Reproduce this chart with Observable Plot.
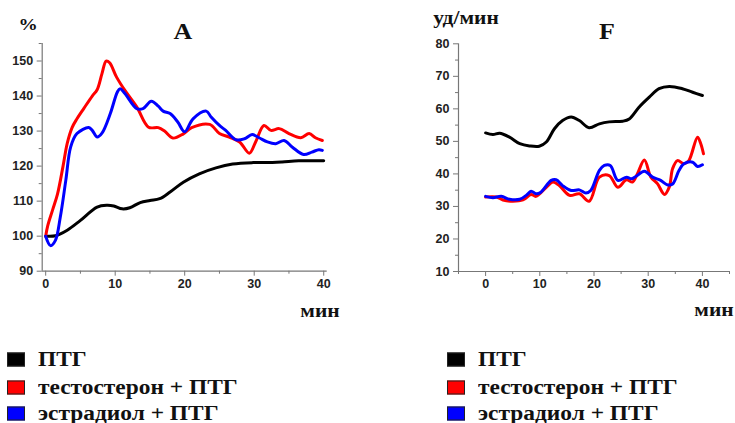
<!DOCTYPE html>
<html>
<head>
<meta charset="utf-8">
<script src="https://cdn.jsdelivr.net/npm/d3@7"></script>
<script src="https://cdn.jsdelivr.net/npm/@observablehq/plot@0.6"></script>
<style>
  html, body { margin: 0; padding: 0; background: #fff; }
  #wrap { position: relative; width: 735px; height: 423px; overflow: hidden; }
  .plot { position: absolute; top: 0; }
  .lbl { position: absolute; font-family: "Liberation Serif", "DejaVu Serif", serif; font-weight: bold; color: #111; white-space: nowrap; transform: translate(-50%, -50%) scaleX(1.13); }
  .leg { position: absolute; font-family: "Liberation Serif", "DejaVu Serif", serif; font-weight: bold; font-size: 20px; color: #111; white-space: nowrap; transform: translateY(-50%); display: flex; align-items: center; }
  .leg .t { display: inline-block; transform: scaleX(1.17); transform-origin: left center; }
  .sw { display: inline-block; width: 16px; height: 12px; border: 1px solid #222; margin-right: 13px; }
</style>
</head>
<body>
<div id="wrap"></div>
<script>
// ---- Data ----
const seriesNames = ["ПТГ", "тестостерон + ПТГ", "эстрадиол + ПТГ"];
const seriesColors = ["#000000", "#ff0000", "#0000ff"];

// Panel A (%), [минуты, значение]
const A_ptg = [[0,100],[1.4,100.1],[3.1,101.7],[5,104.5],[7.4,108.3],[8.8,108.8],[9.8,108.6],[11,107.8],[12.1,108.1],[13.6,109.6],[15,110.2],[16.4,110.7],[17.9,112.6],[19.8,115.4],[22.1,117.8],[24.5,119.5],[26.9,120.6],[29.8,121],[31.7,121],[34,121.2],[36.4,121.5],[40,121.5]];
const A_testo = [[0,100],[0.3,103],[1,107.5],[1.7,112],[2.5,120],[3.1,126.5],[3.8,131],[4.5,133.5],[5.5,136.5],[6.7,140],[7.4,141.8],[8.1,146.4],[8.7,150],[9.2,149.5],[10.2,145.4],[11.4,141.6],[13.1,136.9],[14.8,131.1],[16.2,131],[17.1,130],[18.3,128],[19.8,129.2],[21,131],[23.6,131.9],[25,129.3],[26.4,128.3],[27.9,126.9],[29.3,123.7],[30.2,126.9],[31.4,131.6],[32.4,130.2],[33.6,130.7],[35,129.3],[36.7,128.1],[37.9,129.3],[38.8,128.1],[39.8,127.3]];
const A_estr = [[0,100],[0.7,97.3],[1.4,98.8],[2.1,105.4],[2.9,116],[3.6,125.5],[4.5,129.3],[6.2,131],[6.7,130.2],[7.4,128.3],[8.1,129.4],[9.3,135],[10.3,141.1],[10.7,142.1],[11.4,140.7],[13.1,136.4],[14,136.4],[15.2,138.5],[16.2,137.1],[16.9,135.7],[17.9,135],[19,132.6],[20,129.8],[21.2,133.5],[23.1,135.7],[23.8,134],[25,131.6],[25.9,130.2],[27.4,127.5],[28.6,127.8],[29.7,129],[30.7,128.1],[31.9,126.9],[33.1,126.4],[34.3,127.3],[35.5,125.4],[37.1,123.3],[38.3,124],[39.3,124.7],[39.8,124.5]];

// Panel F (уд/мин)
const F_ptg = [[0,52.6],[1.35,52.1],[2.6,52.5],[4.4,51.3],[6.3,49.3],[8.1,48.6],[9.9,48.5],[11.2,49.8],[12.7,53.9],[14.2,56.4],[15.8,57.5],[17.3,56.4],[19.1,54.2],[21,55.4],[22.8,56],[25.3,56.2],[26.5,56.9],[28.3,60.5],[30.2,63.6],[32,66.2],[33.9,66.9],[36.3,66.2],[38.2,65.1],[40,64.1]];
const F_testo = [[0,32.9],[2,32.9],[3.2,32],[5,31.6],[6.9,32],[8.4,33.7],[9.3,33.1],[11.2,35.9],[12.4,37.5],[13.6,36.4],[15.5,33.4],[17.3,33.9],[19.1,31.6],[21,39],[22.8,39.5],[24.4,35.9],[26,38.2],[27.1,37.5],[28,40],[29.3,44.3],[30.5,39],[31.7,37],[33,33.7],[33.9,36],[34.5,41.6],[35.4,44.1],[36.6,43.1],[37.5,44.1],[39.1,51.3],[39.7,49.3],[40.2,46.2]];
const F_estr = [[0,33.1],[1.35,32.7],[2.9,33.1],[4.4,32.2],[6.3,32.2],[7.5,33.4],[8.4,34.7],[9.3,33.9],[10.2,34.4],[12.1,38],[13,38.2],[14.2,36.4],[15.8,34.9],[17.3,35.1],[18.5,34.1],[19.4,34.9],[21,41.1],[21.9,42.6],[23,42.6],[24.4,38],[26,39],[26.9,38.5],[27.7,39.2],[29.3,40.8],[30.8,39],[32.3,38],[33.6,36.6],[34.5,36.9],[35.7,41.1],[36.6,43.1],[38.2,43.6],[39.1,42.3],[40,42.8]];

// Tick values
const xTicks = [0, 10, 20, 30, 40];
const A_yTicks = [90, 100, 110, 120, 130, 140, 150];
const A_yMinor = [95, 105, 115, 125, 135, 145, 155];
const A_xMinor = [5, 15, 25, 35];
const F_yTicks = [10, 20, 30, 40, 50, 60, 70, 80];
const F_yMinor = [15, 25, 35, 45, 55, 65, 75];
const F_xMinor = [-5, 5, 15, 25, 35, 45];

const axisGray = "#777";
const tickText = "#222";

function panel({series, xDomain, yDomain, yTicks, yMinor, xMinor, width, height, margins}) {
  const marks = [
    Plot.axisY({ticks: yTicks, tickSize: 5, tickPadding: 4, stroke: axisGray, fill: tickText, label: null}),
    Plot.axisY({ticks: yMinor, tickSize: 3, tickFormat: () => "", stroke: axisGray, label: null}),
    Plot.axisX({ticks: xTicks, tickSize: 5, tickPadding: 3, stroke: axisGray, fill: tickText, label: null}),
    Plot.axisX({ticks: xMinor, tickSize: 3, tickFormat: () => "", stroke: axisGray, label: null}),
    Plot.ruleX([xDomain[0]], {y1: yDomain[0], y2: yDomain[1], stroke: axisGray, strokeWidth: 1.2}),
    Plot.ruleY([yDomain[0]], {x1: xDomain[0], x2: xDomain[1], stroke: axisGray, strokeWidth: 1.2})
  ];
  series.forEach((s, i) => {
    marks.push(Plot.line(s, {x: d => d[0], y: d => d[1], stroke: seriesColors[i], strokeWidth: 3, curve: "catmull-rom", strokeLinejoin: "round", strokeLinecap: "round"}));
  });
  return Plot.plot({
    width, height,
    marginLeft: margins[0], marginRight: margins[1], marginTop: margins[2], marginBottom: margins[3],
    x: {domain: xDomain},
    y: {domain: yDomain},
    style: {fontFamily: "'Liberation Sans', Arial, sans-serif", fontSize: "12.5px", fontWeight: "bold", background: "transparent", overflow: "visible"},
    marks
  });
}

const wrap = document.getElementById("wrap");

const pA = panel({series: [A_ptg, A_testo, A_estr], xDomain: [-0.5, 40.5], yDomain: [90, 155],
  yTicks: A_yTicks, yMinor: A_yMinor, xMinor: A_xMinor, width: 370, height: 330, margins: [41.7, 43.3, 43, 59.3]});
pA.classList.add("plot"); pA.style.left = "0px";
wrap.appendChild(pA);

const pF = panel({series: [F_ptg, F_testo, F_estr], xDomain: [-5, 45], yDomain: [10, 80],
  yTicks: F_yTicks, yMinor: F_yMinor, xMinor: F_xMinor, width: 365, height: 330, margins: [88, 6, 43.3, 59]});
pF.classList.add("plot"); pF.style.left = "370px";
wrap.appendChild(pF);

// Labels
function label(text, x, y, size) {
  const d = document.createElement("div");
  d.className = "lbl";
  d.textContent = text;
  d.style.left = x + "px"; d.style.top = y + "px"; d.style.fontSize = size + "px";
  wrap.appendChild(d);
}
label("%", 28, 25, 17);
label("A", 183, 32, 23);
label("мин", 320, 311, 19);
label("уд/мин", 466, 18, 19);
label("F", 607, 32, 23);
label("мин", 714, 310, 19);

// Legends
function legend(x0, ys) {
  seriesNames.forEach((name, i) => {
    const d = document.createElement("div");
    d.className = "leg";
    d.style.left = x0 + "px"; d.style.top = ys[i] + "px";
    const sw = document.createElement("span");
    sw.className = "sw";
    sw.style.background = seriesColors[i];
    d.appendChild(sw);
    const t = document.createElement("span");
    t.className = "t";
    t.textContent = name;
    d.appendChild(t);
    wrap.appendChild(d);
  });
}
legend(7, [359, 387, 413]);
legend(447, [359, 387, 413]);
</script>
</body>
</html>
